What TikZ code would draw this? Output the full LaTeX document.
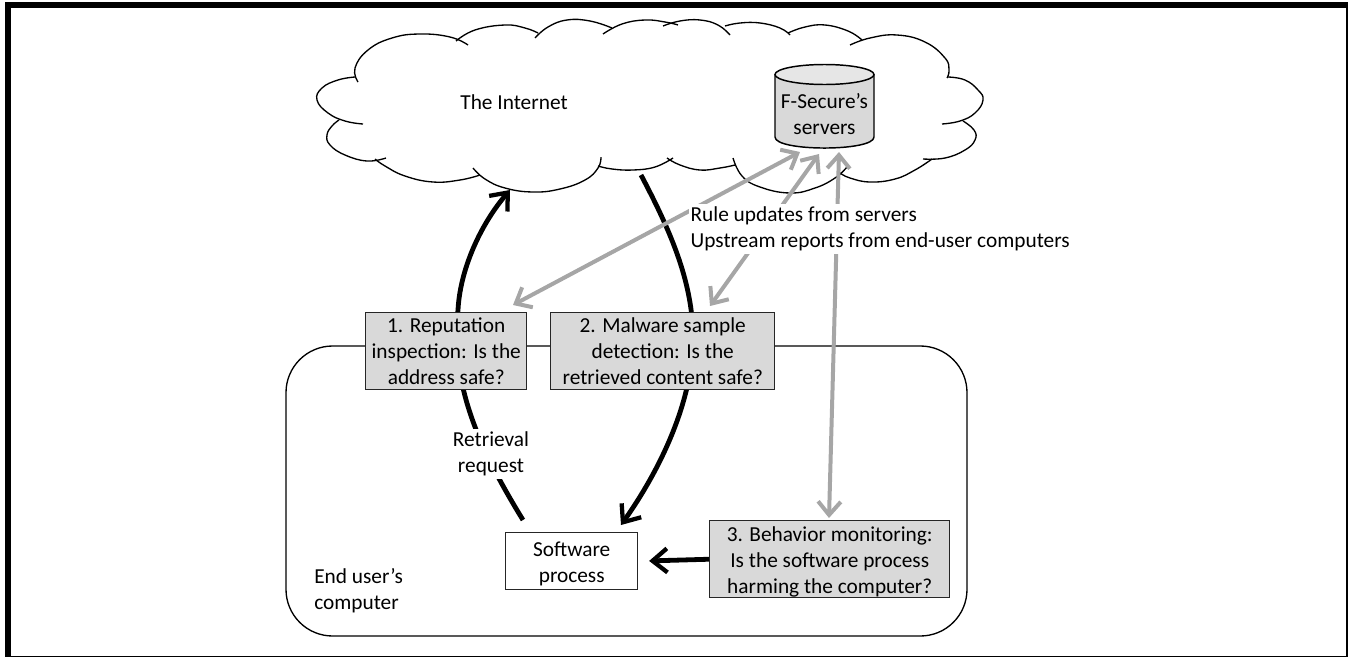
\documentclass[tikz,border=0pt]{standalone}
\usepackage{fontspec}
\setmainfont{Carlito}
\usetikzlibrary{arrows.meta}
\definecolor{boxgray}{HTML}{D9D9D9}
\definecolor{cylTop}{HTML}{E6E6E6}
\definecolor{arrowgray}{HTML}{A6A6A6}
\definecolor{edgegray}{HTML}{262626}
\tikzset{
  x=0.75pt,y=-0.75pt,
  txt/.style={font=\fontsize{16}{19.5}\selectfont,align=center,inner sep=0pt},
  labelbox/.style={txt,fill=white,inner xsep=1pt,inner ysep=2.5pt},
  gbox/.style={txt,draw=edgegray,line width=1.1pt,fill=boxgray,anchor=north west,minimum height=57.75pt},
  wbox/.style={gbox,fill=white},
  lobe/.style={line width=1pt,black},
  blktip/.style={-{Straight Barb[length=11pt,width=18pt,line width=3.2pt]}},
  blk/.style={line width=3.6pt,black,blktip},
  gry/.style={line width=3pt,arrowgray,{Straight Barb[length=10pt,width=17pt,line width=3pt]}-{Straight Barb[length=10pt,width=17pt,line width=3pt]}},
  cyl/.style={draw=black,line width=1.1pt},
}
\newcommand{\lb}[1]{\draw[lobe] plot[smooth,tension=0.75] coordinates {#1};}
\begin{document}
\begin{tikzpicture}
\useasboundingbox (0,0) rectangle (1348,657);
% page frame
\fill[black] (5,2) rectangle (1348,8);
\fill[black] (5,2) rectangle (11,657);
\fill[black] (1346,2) rectangle (1348,657);
\fill[black] (5,655.7) rectangle (1348,657);
% cloud
\lb{(358,82) (355,68) (368,50) (392,38) (420,34) (450,37) (468,45)}
\lb{(456,41) (475,30) (505,25) (525,28) (538,33)}
\lb{(535,38) (548,27) (567,20) (590,21) (612,28)}
\lb{(603,34) (622,24) (645,20) (665,22) (678,25)}
\lb{(663,26) (680,21) (700,20) (718,25) (730,35)}
\lb{(725,26) (740,23) (760,23) (780,28) (790,35)}
\lb{(788,33) (805,27) (825,25) (848,31) (862,40)}
\lb{(850,45) (870,38) (897,35) (925,42) (945,58) (949,70) (947,78)}
\lb{(948,77) (965,80) (978,90) (983,100) (975,113) (960,121) (942,124)}
\lb{(963,121) (974,130) (975,140) (965,150) (945,158) (923,159)}
\lb{(932,159) (915,170) (895,179) (870,182) (850,178) (840,173)}
\lb{(847,167) (835,178) (815,188) (790,193) (760,187) (742,176) (733,158)}
\lb{(735,165) (720,168) (700,170) (680,165) (667,158)}
\lb{(673,158) (655,167) (633,170) (612,169) (598,166)}
\lb{(601,157) (598,168) (585,180) (560,189) (533,192) (505,188) (485,179) (473,168)}
\lb{(480,175) (460,180) (433,182) (405,176) (385,166) (375,159)}
\lb{(386,158) (367,161) (345,155) (330,145) (327,135) (332,126) (339,120)}
\lb{(363,124) (345,121) (328,113) (317,100) (322,88) (338,80) (355,77)}
% end user's computer
\draw[line width=1pt,black,rounded corners=35pt] (286,346) rectangle (967,636);
% named free ends
\coordinate (cloudIn) at (510,190);
\coordinate (cloudOut) at (641,175);
\coordinate (swReq) at (523,520);
\coordinate (swIn) at (621,525);
\coordinate (srvA) at (800,152);
\coordinate (srvB) at (819,154);
\coordinate (srvC) at (839,152);
\coordinate (box1a) at (513,305);
\coordinate (box2a) at (710,306);
\coordinate (box3a) at (829,518);
% black flows
\draw[blk] (swReq) .. controls (480,450) and (450,385) .. (458,310) .. controls (460,270) and (480,225) .. (cloudIn);
\draw[blk] (cloudOut) .. controls (670,230) and (692,280) .. (693,335) .. controls (694,400) and (660,470) .. (swIn);
% gray flows
\draw[gry] (box1a) -- (srvA);
\draw[gry] (box2a) -- (srvB);
\draw[gry] (box3a) -- (srvC);
% boxes
\node[gbox,minimum width=120.75pt] (rep) at (365,312) {1. Reputation\\inspection: Is the\\address safe?};
\node[gbox,minimum width=168pt] (mal) at (550,312) {2. Malware sample\\detection: Is the\\retrieved content safe?};
\node[gbox,minimum width=180pt] (beh) at (709,520) {\rule{0pt}{15pt}3. Behavior monitoring:\\Is the software process\\harming the computer?};
\node[wbox,minimum width=99pt,minimum height=42.75pt] (sw) at (505,532) {\rule{0pt}{14.5pt}Software\\process};
\draw[line width=3.6pt,black,blktip,shorten >=8pt] (beh.west) -- (sw.east);
% servers
\draw[cyl,fill=boxgray] (775,75) -- (775,137) .. controls (775,151.7) and (874,151.7) .. (874,137) -- (874,75) -- cycle;
\draw[cyl,fill=cylTop] (824.5,74.5) ellipse [x radius=37.1pt,y radius=7.5pt];
\node[txt] (srv) at (824.5,114) {F-Secure’s\\servers};
% labels
\node[txt] (net) at (514,102) {The Internet};
\node[labelbox,align=left,anchor=west] (upd) at (689,229) {Rule updates from servers\\Upstream reports from end-user computers};
\node[labelbox] (ret) at (491,454) {Retrieval\\request};
\node[txt,align=left,anchor=north west] (eu) at (314,568.5) {End user’s\\computer};
\end{tikzpicture}
\end{document}
